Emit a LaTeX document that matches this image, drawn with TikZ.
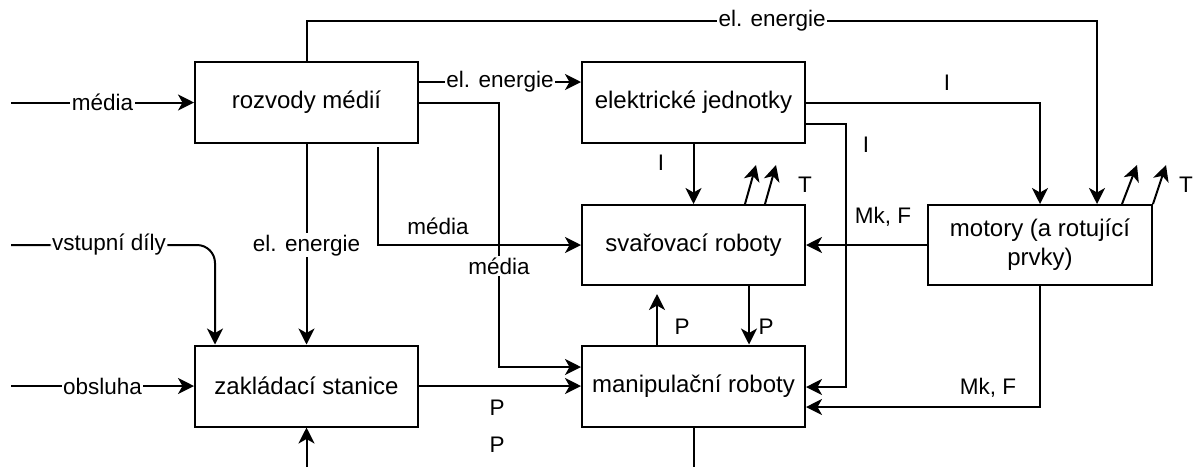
\documentclass[tikz,border=0pt]{standalone}
\usepackage{fontspec}
\setmainfont{Liberation Sans}
\usetikzlibrary{arrows.meta}
\begin{document}
\begin{tikzpicture}[x=1pt,y=-1pt,
  box/.style={draw, line width=2pt, minimum width=223pt, minimum height=81pt, inner sep=0pt,
    font=\fontsize{24}{29}\selectfont, align=center},
  line/.style={line width=2pt},
  conn/.style={line width=2pt, -{Stealth[length=16pt,width=16pt,inset=4.5pt]}},
  bl/.style={fill=white, inner sep=1.5pt, font=\fontsize{22.5}{27}\selectfont},
  tl/.style={inner sep=0pt, font=\fontsize{22.5}{27}\selectfont}
]
\useasboundingbox (0,0) rectangle (1197,467);

% boxes
\node[box] (rm) at (306.5,102.5) {rozvody médií};
\node[box] (ej) at (693.5,102.5) {elektrické jednotky};
\node[box, minimum height=80pt] (sr) at (693.5,245) {svařovací roboty};
\node[box, minimum width=224pt, minimum height=80pt] (mo) at (1040,245) {motory (a rotující\\prvky)};
\node[box] (zs) at (306.5,386) {zakládací stanice};
\node[box] (mr) at (693.5,386) {manipulační roboty};

% free ends
\coordinate (inM) at (11,102.5);
\coordinate (inV) at (11,245);
\coordinate (inO) at (11,386);
\coordinate (inB) at (306.5,467);
\coordinate (outB) at (693.5,467);
\coordinate (t1) at (306.5,21);
\coordinate (t2) at (1097,21);
\coordinate (Ts1) at (756,165);
\coordinate (Ts2) at (776,165);
\coordinate (Tm1) at (1137,165);
\coordinate (Tm2) at (1166,165);

% inputs
\draw[conn] (inM) -- node[bl]{média} (rm.west);
\draw[conn, rounded corners=18pt] (inV) -- node[bl, pos=0.48]{vstupní díly} (215,245) -- (zs.north -| 215,0);
\draw[conn] (inO) -- node[bl]{obsluha} (zs.west);
\draw[conn] (inB) -- (zs.south);

% from rozvody
\draw[conn] (rm.north) -- (t1) -- node[bl, pos=0.589]{el. energie} (t2) -- (t2 |- mo.north);
\draw[conn] (rm.east |- 0,82) -- node[bl]{el. energie} (ej.west |- 0,82);
\draw[conn] (rm.east) -- (499,102.5) -- node[bl, pos=0.618]{média} (499,367) -- (mr.west |- 0,367);
\draw[conn] (rm.south) -- node[bl, pos=0.505]{el. energie} (zs.north);
\draw[conn] ([yshift=-3pt]rm.south -| 378,0) -- (378,245) -- (sr.west);
\node[tl] (lm) at (438,226) {média};

% zakladaci -> manipulacni
\draw[conn] (zs.east) -- (mr.west);
\node[tl] (p1) at (497,408) {P};
\node[tl] (p2) at (497,445) {P};

% elektricke jednotky
\draw[conn] (ej.south) -- (sr.north);
\node[tl] (i1) at (661,163) {I};
\draw[conn] (ej.east) -- (1040,102.5) -- (mo.north);
\node[tl] (i2) at (947,83) {I};
\draw[conn] (ej.east |- 0,124) -- (846,124) -- (846,387) -- (mr.east |- 0,387);
\node[tl] (i3) at (866,145) {I};

% motory
\draw[conn] (mo.west) -- (sr.east);
\node[tl] (mk1) at (883,217) {Mk, F};
\draw[conn] (mo.south) -- (1040,407) -- (mr.east |- 0,407);
\node[tl] (mk2) at (988,388) {Mk, F};

% P between robots
\draw[conn] (sr.south -| 749,0) -- (mr.north -| 749,0);
\node[tl] (p3) at (766,327) {P};
\draw[conn] (mr.north -| 657,0) -- ([yshift=-8pt]sr.south -| 657,0);
\node[tl] (p4) at (682,327) {P};
\draw[line] (mr.south) -- (outB);

% T arrows
\draw[conn] (sr.north -| 745,0) -- (Ts1);
\draw[conn] (sr.north -| 765,0) -- (Ts2);
\node[tl] (ts) at (805,185) {T};
\draw[conn] (mo.north -| 1122,0) -- (Tm1);
\draw[conn] (mo.north east) -- (Tm2);
\node[tl] (tm) at (1186,185) {T};
\end{tikzpicture}
\end{document}
